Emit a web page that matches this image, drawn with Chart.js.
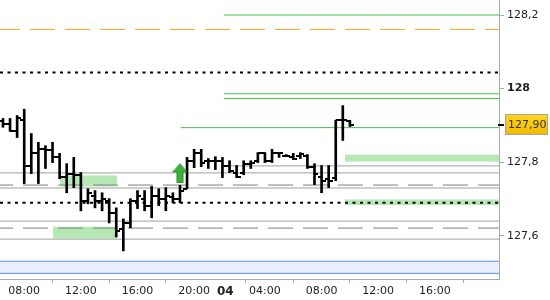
<!DOCTYPE html>
<html>
<head>
<meta charset="utf-8">
<script src="https://cdn.jsdelivr.net/npm/chart.js@4.4.1/dist/chart.umd.min.js"></script>
<style>
  html, body { margin: 0; padding: 0; background: #fff; }
</style>
</head>
<body>
<canvas id="chart" width="550" height="300"></canvas>
<script>
// 30 minute bars, slot 0 = 06:30 (day 1), session restarts at slot 31 (day 04)
const opens  = [127.911,127.903,127.886,127.914,127.791,127.826,127.835,127.832,127.813,127.761,
                127.769,127.766,127.695,127.709,127.695,127.695,127.663,127.619,127.635,127.695,
                127.701,127.682,127.709,127.701,127.706,127.701,127.728,127.804,127.824,127.804,
                127.804,127.804,127.791,127.772,127.772,127.794,127.802,127.824,127.802,127.824,
                127.818,127.815,127.818,127.818,127.788,127.761,127.755,127.758,127.914,127.911];
const highs  = [127.919,127.919,127.927,127.944,127.878,127.854,127.845,127.854,127.824,127.796,
                127.813,127.772,127.728,127.723,127.717,127.701,127.676,127.646,127.701,127.723,
                127.723,127.734,127.728,127.731,127.717,127.737,127.813,127.835,127.835,127.810,
                127.815,127.813,127.804,127.791,127.804,127.804,127.826,127.826,127.835,127.824,
                127.821,127.824,127.826,127.821,127.796,127.791,127.791,127.914,127.954,127.914];
const lows   = [127.895,127.884,127.867,127.742,127.769,127.742,127.783,127.799,127.755,127.717,
                127.731,127.668,127.687,127.676,127.668,127.635,127.597,127.559,127.622,127.674,
                127.668,127.649,127.682,127.668,127.690,127.690,127.728,127.785,127.788,127.783,
                127.780,127.758,127.772,127.758,127.766,127.783,127.799,127.799,127.799,127.813,
                127.815,127.807,127.810,127.783,127.739,127.717,127.731,127.750,127.859,127.897];
const closes = [127.903,127.886,127.919,127.791,127.826,127.837,127.832,127.813,127.761,127.769,
                127.766,127.695,127.717,127.695,127.701,127.663,127.614,127.635,127.695,127.709,
                127.682,127.709,127.701,127.709,127.701,127.723,127.804,127.824,127.799,127.804,
                127.804,127.791,127.777,127.761,127.796,127.799,127.824,127.802,127.826,127.824,
                127.818,127.810,127.821,127.788,127.769,127.750,127.750,127.914,127.914,127.900];

const xTickPos    = [3, 11, 19, 27, 31.4, 37, 45, 53, 61, 69];
const xTickLabels = ['08:00', '12:00', '16:00', '20:00', '04', '04:00', '08:00', '12:00', '16:00', ''];
const yTicks = [127.6, 127.8, 128, 128.2];

// levels (start slot, null = whole chart)
const greenLevels = [128.2, 127.986, 127.973, 127.894];
const greenStart  = [31.2, 31.2, 31.2, 25.1];
const grayLevels  = [127.790, 127.771, 127.730, 127.640, 127.591];
const grayStart   = [31.1, null, null, null, null];
const grayDashedLevels = [127.738, 127.621];
const dottedLevels = [128.044, 127.690];
const orangeLevels = [128.161];
const bandTop    = [127.820, 127.699, 127.764, 127.625];
const bandBottom = [127.802, 127.684, 127.734, 127.593];
const bandStart  = [48.3, 48.3, 8.05, 7.06];
const bandEnd    = [null, null, 16.1, 16.1];
const blueBand   = [127.531, 127.498];
const signalSlots  = [25];
const signalPrices = [127.770];

const X_MIN = -0.42, X_MAX = 70.06;
const Y_MIN = 127.4827, Y_MAX = 128.2408;
const FONT = '"DejaVu Sans", Verdana, sans-serif';

function tickImage(side) {
  const c = document.createElement('canvas');
  c.width = 8; c.height = 2;
  const g = c.getContext('2d');
  g.fillStyle = '#000';
  g.fillRect(side === 'left' ? 0 : 4, 0, 4, 2);
  return c;
}

function arrowImage() {
  const c = document.createElement('canvas');
  c.width = 15; c.height = 20;
  const g = c.getContext('2d');
  g.beginPath();
  g.moveTo(7.5, 0.5); g.lineTo(14.5, 8.5); g.lineTo(10.5, 8.5); g.lineTo(10.5, 19.5);
  g.lineTo(4.5, 19.5); g.lineTo(4.5, 8.5); g.lineTo(0.5, 8.5); g.closePath();
  g.fillStyle = '#3bb33b';
  g.fill();
  g.strokeStyle = '#2a8a2a';
  g.lineWidth = 1;
  g.stroke();
  return c;
}

function hLine(value, from, to, style) {
  return Object.assign({
    type: 'line',
    data: [{ x: from == null ? X_MIN : from, y: value }, { x: to == null ? X_MAX : to, y: value }],
    pointRadius: 0,
    borderWidth: 1,
    fill: false,
    order: 20
  }, style);
}

const datasets = [];

// bands
bandTop.forEach((top, i) => {
  datasets.push(hLine(top, bandStart[i], bandEnd[i], {
    borderWidth: 0, borderColor: 'rgba(0,0,0,0)',
    backgroundColor: '#b6e8b6', fill: { value: bandBottom[i] }, order: 40
  }));
});
datasets.push(hLine(blueBand[0], null, null, {
  borderColor: '#5b8ff0', backgroundColor: '#e8eefc', fill: { value: blueBand[1] }, order: 40
}));
datasets.push(hLine(blueBand[1], null, null, { borderColor: '#5b8ff0', order: 39 }));

// lines
grayLevels.forEach((v, i) => datasets.push(hLine(v, grayStart[i], null, { borderColor: '#a0a0a0' })));
grayDashedLevels.forEach(v => datasets.push(hLine(v, null, null, {
  borderColor: '#808080', borderDash: [25, 10], borderDashOffset: 12
})));
orangeLevels.forEach(v => datasets.push(hLine(v, null, null, {
  borderColor: '#f0a41e', borderDash: [25, 10], borderDashOffset: 5
})));
greenLevels.forEach((v, i) => datasets.push(hLine(v, greenStart[i], null, { borderColor: '#48bf48' })));
dottedLevels.forEach(v => datasets.push(hLine(v, null, null, {
  borderColor: '#000', borderWidth: 2, borderDash: [3, 4.5], order: 18
})));

// OHLC bars
datasets.push({
  type: 'bar',
  data: highs.map((h, i) => ({ x: i, y: [lows[i], h] })),
  backgroundColor: '#000',
  borderWidth: 0,
  barThickness: 2,
  order: 10
});
datasets.push({
  type: 'scatter',
  data: opens.map((o, i) => ({ x: i, y: o })),
  pointStyle: tickImage('left'),
  pointRadius: 3,
  order: 5
});
datasets.push({
  type: 'scatter',
  data: closes.map((c, i) => ({ x: i, y: c })),
  pointStyle: tickImage('right'),
  pointRadius: 3,
  order: 5
});
datasets.push({
  type: 'scatter',
  data: signalSlots.map((s, i) => ({ x: s, y: signalPrices[i] })),
  pointStyle: arrowImage(),
  pointRadius: 7,
  order: 1
});

const lastPriceLabel = {
  id: 'lastPriceLabel',
  afterDraw(chart) {
    const last = closes[closes.length - 1];
    const y = Math.round(chart.scales.y.getPixelForValue(last));
    const right = chart.chartArea.right;
    const ctx = chart.ctx;
    ctx.save();
    ctx.fillStyle = '#000';
    ctx.fillRect(right - 1, y - 1, 6, 2);
    const grd = ctx.createLinearGradient(0, y - 10, 0, y + 10);
    grd.addColorStop(0, '#ffd51c');
    grd.addColorStop(1, '#f2b900');
    ctx.fillStyle = grd;
    ctx.fillRect(right + 6, y - 10, 43, 20);
    ctx.strokeStyle = '#a4a4a4';
    ctx.lineWidth = 1;
    ctx.strokeRect(right + 6.5, y - 10.5, 42, 20);
    ctx.fillStyle = '#333';
    ctx.font = '11px ' + FONT;
    ctx.textBaseline = 'middle';
    ctx.fillText(last.toFixed(2).replace('.', ','), right + 9, y + 0.5);
    ctx.restore();
  }
};

new Chart(document.getElementById('chart'), {
  type: 'scatter',
  data: { datasets },
  plugins: [lastPriceLabel],
  options: {
    responsive: false,
    animation: false,
    layout: { padding: 0, autoPadding: false },
    plugins: { legend: { display: false }, tooltip: { enabled: false } },
    scales: {
      x: {
        type: 'linear',
        min: X_MIN,
        max: X_MAX,
        offset: false,
        afterBuildTicks: (scale) => { scale.ticks = xTickPos.map(v => ({ value: v })); },
        afterFit: (scale) => {
          scale.height = 21;
          scale.paddingLeft = 0;
          scale.paddingRight = 0;
        },
        grid: {
          drawOnChartArea: false,
          tickLength: 4,
          color: (ctx) => xTickLabels[ctx.index] === '04' ? 'rgba(0,0,0,0)' : '#aaa'
        },
        border: { color: '#aaa' },
        ticks: {
          autoSkip: false,
          maxRotation: 0,
          padding: 2,
          color: '#222',
          font: (ctx) => ({
            family: FONT,
            size: xTickLabels[ctx.index] === '04' ? 12 : 11,
            weight: xTickLabels[ctx.index] === '04' ? 'bold' : 'normal'
          }),
          callback: (v, i) => xTickLabels[i]
        }
      },
      y: {
        position: 'right',
        min: Y_MIN,
        max: Y_MAX,
        afterBuildTicks: (scale) => { scale.ticks = yTicks.map(v => ({ value: v })); },
        afterFit: (scale) => {
          scale.width = 51;
          scale.paddingTop = 0;
          scale.paddingBottom = 0;
        },
        grid: { drawOnChartArea: false, tickLength: 5, color: '#aaa' },
        border: { color: '#aaa' },
        ticks: {
          padding: 3,
          color: '#222',
          font: (ctx) => ({
            family: FONT,
            size: 11,
            weight: ctx.tick && ctx.tick.value === 128 ? 'bold' : 'normal'
          }),
          callback: (v) => String(v).replace('.', ',')
        }
      }
    }
  }
});
</script>
</body>
</html>
